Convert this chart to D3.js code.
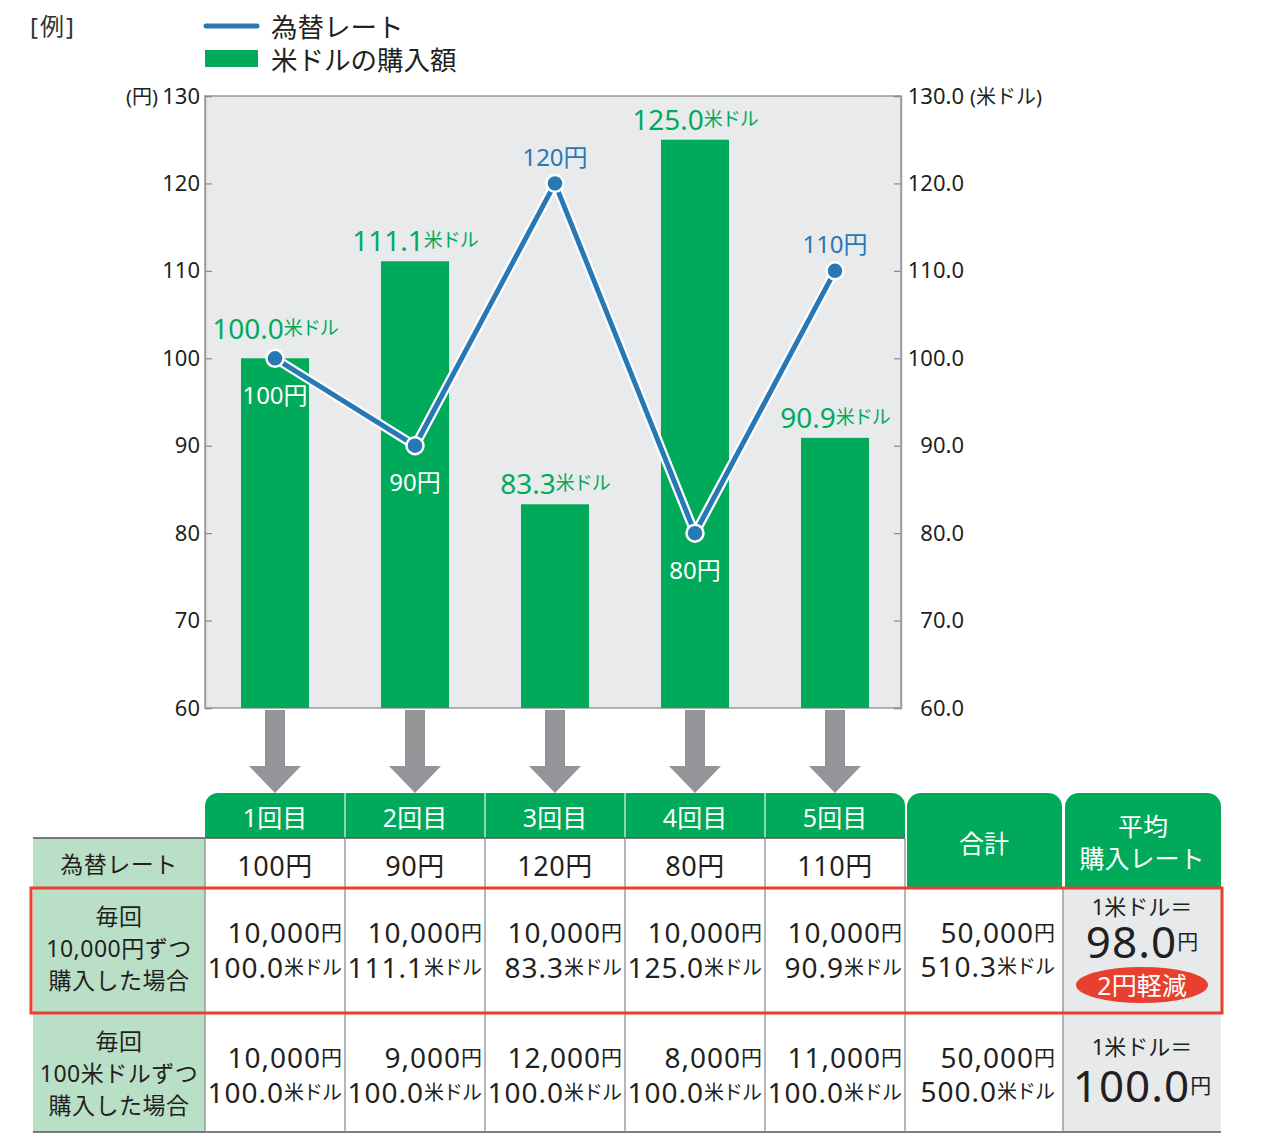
<!DOCTYPE html>
<html lang="ja">
  <head>
    <meta charset="UTF-8" />
    <script src="https://cdn.jsdelivr.net/npm/d3@7"></script>
    <title>ドル・コスト平均法</title>
    <style>
      body { margin: 0; background: #fff; }
      text { font-family: "Noto Sans", "Noto Sans CJK JP", sans-serif; fill: #231f20; }
    </style>
  </head>
  <body>
    <svg id="chart" width="1271" height="1136"></svg>
  </body>
  <script>
    // data
    var rounds = ["1回目", "2回目", "3回目", "4回目", "5回目"];
    var rates = [100, 90, 120, 80, 110]; // 為替レート (円)
    var usdBought = [100.0, 111.1, 83.3, 125.0, 90.9]; // 米ドルの購入額
    var yenTicks = [60, 70, 80, 90, 100, 110, 120, 130];
    var usdTicks = [60, 70, 80, 90, 100, 110, 120, 130];
    var yenFixedCost = [10000, 10000, 10000, 10000, 10000]; // 毎回10,000円ずつ
    var usdFixedAmount = [100.0, 100.0, 100.0, 100.0, 100.0]; // 毎回100米ドルずつ
    var totalYen = [50000, 50000];
    var totalUsd = [510.3, 500.0];
    var avgRate = [98.0, 100.0];
    var saving = "2円軽減";

    var svg = d3.select("#chart");
    var green = "#00aa5a",
      blue = "#2878b5",
      dark = "#231f20";

    var plotL = 205, plotR = 901, plotT = 96, plotB = 708;

    var x = d3.scaleBand().domain(rounds).range([205, 905]).paddingInner(0.514).paddingOuter(0.257);
    var col = d3.scaleBand().domain(rounds).range([205, 905]).padding(0);
    var y = d3.scaleLinear().domain([60, 130]).range([plotB, plotT]);
    var yR = d3.scaleLinear().domain([60, 130]).range([plotB, plotT]);
    var cx = function (d) { return x(d) + x.bandwidth() / 2; };

    // legend
    svg.append("text").attr("x", 30).attr("y", 25).attr("dominant-baseline", "central")
      .style("font-size", "24px").style("fill", "#333").style("letter-spacing", "2px").text("[例]");
    svg.append("line").attr("x1", 206).attr("x2", 257).attr("y1", 26).attr("y2", 26)
      .attr("stroke", blue).attr("stroke-width", 5).attr("stroke-linecap", "round");
    svg.append("text").attr("x", 271).attr("y", 27).attr("dominant-baseline", "central")
      .style("font-size", "26.5px").text("為替レート");
    svg.append("rect").attr("x", 205).attr("y", 50).attr("width", 53).attr("height", 17).attr("fill", green);
    svg.append("text").attr("x", 271).attr("y", 60).attr("dominant-baseline", "central")
      .style("font-size", "26.5px").text("米ドルの購入額");

    // plot background
    svg.append("rect").attr("x", plotL).attr("y", plotT).attr("width", plotR - plotL).attr("height", plotB - plotT)
      .attr("fill", "#e9eaec").attr("stroke", "#9a9b9d").attr("stroke-width", 1.5);

    // axes
    var gl = svg.append("g").attr("transform", "translate(" + plotL + ",0)")
      .call(d3.axisLeft(y).tickValues(yenTicks).tickSize(-7).tickPadding(5));
    var gr = svg.append("g").attr("transform", "translate(" + plotR + ",0)")
      .call(d3.axisRight(yR).tickValues(usdTicks).tickFormat(d3.format(".1f")).tickSize(-7).tickPadding(5));
    [gl, gr].forEach(function (g) {
      g.attr("font-family", null);
      g.select(".domain").attr("stroke", "#9a9b9d").attr("stroke-width", 1.5);
      g.selectAll(".tick line").attr("stroke", "#8a8b8d").attr("stroke-width", 1.2);
      g.selectAll(".tick text").style("font-size", "22px").attr("fill", dark);
    });
    gr.selectAll(".tick text").attr("text-anchor", "end").attr("x", 63);
    svg.append("text").attr("x", 158).attr("y", plotT).attr("text-anchor", "end").attr("dominant-baseline", "central")
      .style("font-size", "20px").text("(円)");
    svg.append("text").attr("x", 970).attr("y", plotT).attr("dominant-baseline", "central")
      .style("font-size", "20px").text("(米ドル)");

    // bars
    svg.append("g").selectAll("rect").data(rounds).enter().append("rect")
      .attr("x", function (d) { return x(d); })
      .attr("width", x.bandwidth())
      .attr("y", function (d, i) { return yR(usdBought[i]); })
      .attr("height", function (d, i) { return plotB - yR(usdBought[i]); })
      .attr("fill", green);

    // bar labels
    var bl = svg.append("g").selectAll("text").data(rounds).enter().append("text")
      .attr("x", function (d) { return cx(d); })
      .attr("y", function (d, i) {
        var off = Math.abs(y(rates[i]) - yR(usdBought[i])) < 15 ? -30 : -21;
        return yR(usdBought[i]) + off;
      })
      .attr("text-anchor", "middle").attr("dominant-baseline", "central");
    bl.append("tspan").style("font-size", "28px").style("fill", green).text(function (d, i) { return usdBought[i].toFixed(1); });
    bl.append("tspan").style("font-size", "19px").style("fill", green).style("letter-spacing", "-1px").text("米ドル");

    // rate line
    var line = d3.line().x(function (d, i) { return cx(rounds[i]); }).y(function (d) { return y(d); });
    svg.append("path").datum(rates).attr("d", line).attr("fill", "none")
      .attr("stroke", "#fff").attr("stroke-width", 9.5).attr("stroke-linejoin", "round");
    svg.append("path").datum(rates).attr("d", line).attr("fill", "none")
      .attr("stroke", blue).attr("stroke-width", 5).attr("stroke-linejoin", "round");
    svg.append("g").selectAll("circle").data(rates).enter().append("circle")
      .attr("cx", function (d, i) { return cx(rounds[i]); })
      .attr("cy", function (d) { return y(d); })
      .attr("r", 8.5).attr("fill", blue).attr("stroke", "#fff").attr("stroke-width", 2.5);

    // rate labels: above the point when it sits over the bar, inside the bar otherwise
    function overBar(d, i) { return d > usdBought[i]; }
    svg.append("g").selectAll("text").data(rates).enter().append("text")
      .attr("x", function (d, i) { return cx(rounds[i]); })
      .attr("y", function (d, i) { return y(d) + (overBar(d, i) ? -27 : 36); })
      .attr("text-anchor", "middle").attr("dominant-baseline", "central")
      .style("font-size", "24px")
      .style("fill", function (d, i) { return overBar(d, i) ? blue : "#fff"; })
      .text(function (d) { return d + "円"; });

    // arrows
    svg.append("g").selectAll("path").data(rounds).enter().append("path")
      .attr("d", function (d) {
        var c = cx(d);
        var p = d3.path();
        p.moveTo(c - 10, 710); p.lineTo(c + 10, 710); p.lineTo(c + 10, 766); p.lineTo(c + 26, 766);
        p.lineTo(c, 793); p.lineTo(c - 26, 766); p.lineTo(c - 10, 766); p.closePath();
        return p.toString();
      })
      .attr("fill", "#939598");

    // ---------- table ----------
    var t = svg.append("g");
    var hTop = 793, r1 = 838, r2 = 888, r3 = 1013, tBottom = 1132;
    var labL = 33, colEnd = 905, totL = 905, totR = 1063, avgR = 1221;

    function topRounded(x0, y0, w, h, r) {
      var p = d3.path();
      p.moveTo(x0, y0 + h); p.lineTo(x0, y0 + r); p.arcTo(x0, y0, x0 + r, y0, r);
      p.lineTo(x0 + w - r, y0); p.arcTo(x0 + w, y0, x0 + w, y0 + r, r);
      p.lineTo(x0 + w, y0 + h); p.closePath();
      return p.toString();
    }

    // background cells
    t.append("rect").attr("x", labL).attr("y", r1).attr("width", plotL - labL).attr("height", tBottom - r1).attr("fill", "#b9dfc7");
    t.append("rect").attr("x", totR).attr("y", r2).attr("width", avgR - totR).attr("height", tBottom - r2).attr("fill", "#e8e9eb");
    t.append("path").attr("d", topRounded(plotL, hTop, colEnd - plotL, r1 - hTop, 13)).attr("fill", green);
    t.append("path").attr("d", topRounded(totL + 2, hTop, totR - totL - 3, r2 - hTop, 14)).attr("fill", green);
    t.append("path").attr("d", topRounded(totR + 2, hTop, avgR - totR - 2, r2 - hTop, 14)).attr("fill", green);

    // header dividers
    t.selectAll(".hdiv").data(rounds.slice(1)).enter().append("line")
      .attr("x1", function (d) { return col(d); }).attr("x2", function (d) { return col(d); })
      .attr("y1", hTop).attr("y2", r1).attr("stroke", "#e6f4ec").attr("stroke-width", 1.2);

    // grid
    t.append("line").attr("x1", labL).attr("x2", colEnd).attr("y1", r1).attr("y2", r1).attr("stroke", "#555").attr("stroke-width", 1.5);
    t.append("line").attr("x1", labL).attr("x2", avgR).attr("y1", tBottom).attr("y2", tBottom).attr("stroke", "#555").attr("stroke-width", 1.5);
    var vx = rounds.map(function (d) { return col(d); }).concat([colEnd]);
    t.selectAll(".vline").data(vx).enter().append("line")
      .attr("x1", function (d) { return d; }).attr("x2", function (d) { return d; })
      .attr("y1", r1).attr("y2", tBottom).attr("stroke", "#8d8e90").attr("stroke-width", 1.3);
    t.append("line").attr("x1", totR).attr("x2", totR).attr("y1", r2).attr("y2", tBottom).attr("stroke", "#8d8e90").attr("stroke-width", 1.3);
    t.append("line").attr("x1", labL).attr("x2", avgR).attr("y1", r3).attr("y2", r3).attr("stroke", "#8d8e90").attr("stroke-width", 1.3);

    // header texts
    t.selectAll(".htext").data(rounds).enter().append("text")
      .attr("x", function (d) { return col(d) + col.bandwidth() / 2; }).attr("y", 817)
      .attr("text-anchor", "middle").attr("dominant-baseline", "central")
      .style("font-size", "25px").style("fill", "#fff").text(function (d) { return d; });
    t.append("text").attr("x", (totL + totR) / 2).attr("y", 843).attr("text-anchor", "middle").attr("dominant-baseline", "central")
      .style("font-size", "25px").style("fill", "#fff").text("合計");
    t.append("text").attr("x", (totR + avgR) / 2 + 1).attr("y", 826).attr("text-anchor", "middle").attr("dominant-baseline", "central")
      .style("font-size", "25px").style("fill", "#fff").text("平均");
    t.append("text").attr("x", (totR + avgR) / 2).attr("y", 858).attr("text-anchor", "middle").attr("dominant-baseline", "central")
      .style("font-size", "25px").style("fill", "#fff").text("購入レート");

    // row labels
    function rowLabel(lines, yc) {
      lines.forEach(function (s, i) {
        t.append("text").attr("x", (labL + plotL) / 2).attr("y", yc + (i - (lines.length - 1) / 2) * 32)
          .attr("text-anchor", "middle").attr("dominant-baseline", "central")
          .style("font-size", "23px").style("letter-spacing", "0.5px").text(s);
      });
    }
    rowLabel(["為替レート"], 864);
    rowLabel(["毎回", "10,000円ずつ", "購入した場合"], 948);
    rowLabel(["毎回", "100米ドルずつ", "購入した場合"], 1073);

    // rate row
    t.selectAll(".rate").data(rates).enter().append("text")
      .attr("x", function (d, i) { return col(rounds[i]) + col.bandwidth() / 2; }).attr("y", 865)
      .attr("text-anchor", "middle").attr("dominant-baseline", "central")
      .style("font-size", "27px").style("letter-spacing", "0.5px").text(function (d) { return d + "円"; });

    var fmt = d3.format(",");
    function valueText(xr, yc, num, unit, unitSize) {
      var tx = t.append("text").attr("x", xr).attr("y", yc).attr("text-anchor", "end").attr("dominant-baseline", "central");
      tx.append("tspan").style("font-size", "28px").style("letter-spacing", "1px").text(num);
      tx.append("tspan").style("font-size", unitSize).style("letter-spacing", "-1px").text(unit);
    }

    // per-round purchase rows
    rounds.forEach(function (d, i) {
      var xr = col(d) + col.bandwidth() - 4;
      valueText(xr, 932, fmt(yenFixedCost[i]), "円", "21px");
      valueText(xr, 967, (yenFixedCost[i] / rates[i]).toFixed(1), "米ドル", "20px");
      valueText(xr, 1057, fmt(usdFixedAmount[i] * rates[i]), "円", "21px");
      valueText(xr, 1092, usdFixedAmount[i].toFixed(1), "米ドル", "20px");
    });
    valueText(totR - 9, 932, fmt(totalYen[0]), "円", "21px");
    valueText(totR - 9, 966, totalUsd[0].toFixed(1), "米ドル", "20px");
    valueText(totR - 9, 1057, fmt(totalYen[1]), "円", "21px");
    valueText(totR - 9, 1091, totalUsd[1].toFixed(1), "米ドル", "20px");

    // average column
    var ac = (totR + avgR) / 2;
    function avgCell(yc, gap, v) {
      t.append("text").attr("x", ac).attr("y", yc).attr("text-anchor", "middle").attr("dominant-baseline", "central")
        .style("font-size", "22px").text("1米ドル＝");
      var tx = t.append("text").attr("x", ac).attr("y", yc + gap).attr("text-anchor", "middle").attr("dominant-baseline", "central");
      tx.append("tspan").style("font-size", "44px").style("letter-spacing", "1px").text(v.toFixed(1));
      tx.append("tspan").style("font-size", "21px").text("円");
    }
    avgCell(906, 35, avgRate[0]);
    avgCell(1046, 39, avgRate[1]);
    t.append("ellipse").attr("cx", ac).attr("cy", 985).attr("rx", 66).attr("ry", 18).attr("fill", "#e8402f");
    t.append("text").attr("x", ac).attr("y", 985).attr("text-anchor", "middle").attr("dominant-baseline", "central")
      .style("font-size", "25px").style("fill", "#fff").text(saving);

    // highlight box
    t.append("rect").attr("x", 31).attr("y", r2).attr("width", avgR + 1 - 31).attr("height", r3 - r2)
      .attr("fill", "none").attr("stroke", "#e8412f").attr("stroke-width", 3);
  </script>
</html>
